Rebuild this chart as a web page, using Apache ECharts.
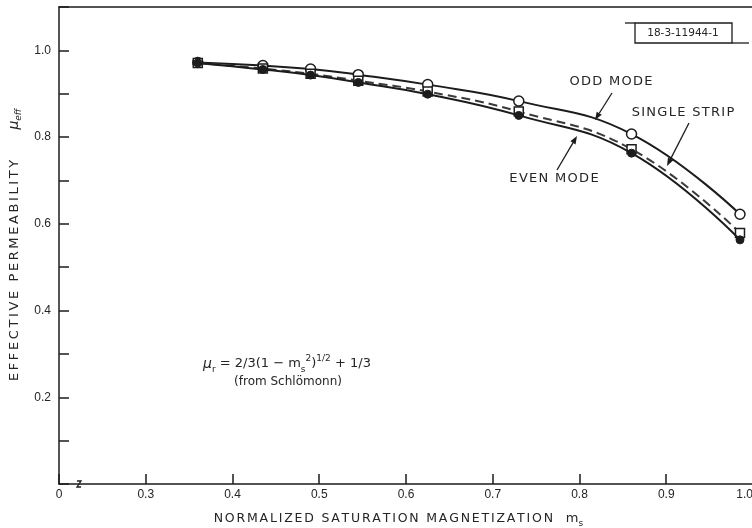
<!DOCTYPE html>
<html>
<head>
<meta charset="utf-8">
<script src="https://cdn.jsdelivr.net/npm/echarts@6/dist/echarts.min.js"></script>
<style>
  html, body { margin: 0; padding: 0; background: #ffffff; }
  #chart { width: 752px; height: 528px; }
</style>
</head>
<body>
<div id="chart"></div>
<script>
// Normalized saturation magnetization m_s at the measured points
const msValues = [0.36, 0.435, 0.49, 0.545, 0.625, 0.73, 0.86, 0.985];
// Effective permeability for each coupled-strip mode
const oddMode     = [0.972, 0.965, 0.957, 0.944, 0.921, 0.883, 0.807, 0.622];
const singleStrip = [0.971, 0.958, 0.946, 0.930, 0.905, 0.859, 0.772, 0.579];
const evenMode    = [0.971, 0.956, 0.943, 0.926, 0.899, 0.850, 0.763, 0.563];
// Axis tick labels (the m_s axis is broken below 0.3; its origin reads "0")
const xTickLabels = ['0', '0.3', '0.4', '0.5', '0.6', '0.7', '0.8', '0.9', '1.0'];
const yTickLabels = ['', '', '0.2', '', '0.4', '', '0.6', '', '0.8', '', '1.0', ''];

const INK = '#1c1c1c';
const TEXT = '#252525';
const SANS = '"DejaVu Sans", "Liberation Sans", sans-serif';
const NUM = '"Liberation Sans", "DejaVu Sans", sans-serif';

const pairs = (ys) => msValues.map((x, i) => [x, ys[i]]);

// Lettering with open tracking: one rich-text token per character
const tracked = (str, key) => str.split('').map((c) => '{' + key + '|' + c + '}').join('');

// Straight arrow with a filled head at (x2, y2)
function arrow(x1, y1, x2, y2) {
  const a = Math.atan2(y2 - y1, x2 - x1);
  const L = 8, W = 3;
  const bx = x2 - L * Math.cos(a), by = y2 - L * Math.sin(a);
  const nx = -Math.sin(a) * W, ny = Math.cos(a) * W;
  return [
    { type: 'line', shape: { x1: x1, y1: y1, x2: bx, y2: by },
      style: { stroke: INK, lineWidth: 1.3 }, z: 20 },
    { type: 'polygon', shape: { points: [[x2, y2], [bx + nx, by + ny], [bx - nx, by - ny]] },
      style: { fill: INK }, z: 20 }
  ];
}

// Curve caption in tracked capitals
function caption(str, x, y) {
  return { type: 'text', x: x, y: y, z: 21,
    style: {
      text: tracked(str, 'c'), align: 'center', verticalAlign: 'middle',
      rich: { c: { font: '13px ' + SANS, fill: TEXT, padding: [0, 0.65, 0, 0.65] } }
    } };
}

const chart = echarts.init(document.getElementById('chart'), null, { renderer: 'canvas' });

const option = {
  animation: false,
  backgroundColor: '#ffffff',
  grid: { left: 59, top: 7, width: 694, bottom: 44, containLabel: false, outerBoundsMode: 'none' },
  xAxis: [{
    type: 'value', min: 0.2, max: 1.0, interval: 0.1,
    axisLine: { lineStyle: { color: INK, width: 1.5 } },
    axisTick: { inside: true, length: 10, lineStyle: { color: INK, width: 1.5 } },
    splitLine: { show: false },
    axisLabel: {
      color: TEXT, fontFamily: NUM, fontSize: 12, margin: 5, alignMaxLabel: 'right',
      formatter: (v) => xTickLabels[Math.round((v - 0.2) / 0.1)] || ''
    },
    name: tracked('NORMALIZED SATURATION MAGNETIZATION', 't') + '{g|   }{m|m}{s|s}',
    nameLocation: 'middle', nameGap: 26,
    nameTextStyle: {
      padding: [0, 16, 0, 0],
      rich: {
        t: { fontFamily: SANS, fontSize: 12.5, color: TEXT, lineHeight: 18, padding: [0, 0.9, 0, 0.9] },
        g: { fontFamily: SANS, fontSize: 12.5, lineHeight: 18 },
        m: { fontFamily: SANS, fontSize: 13, color: TEXT, lineHeight: 18 },
        s: { fontFamily: SANS, fontSize: 9, color: TEXT, lineHeight: 18, verticalAlign: 'bottom' }
      }
    }
  }, {
    type: 'value', min: 0.2, max: 1.0, position: 'top',
    axisLine: { lineStyle: { color: INK, width: 1.5 } },
    axisTick: { show: false }, axisLabel: { show: false }, splitLine: { show: false }
  }],
  yAxis: {
    type: 'value', min: 0, max: 1.1, interval: 0.1,
    axisLine: { lineStyle: { color: INK, width: 1.5 } },
    axisTick: { inside: true, length: 10, lineStyle: { color: INK, width: 1.5 } },
    splitLine: { show: false },
    axisLabel: {
      color: TEXT, fontFamily: NUM, fontSize: 12, margin: 8,
      formatter: (v) => yTickLabels[Math.round(v * 10)] || ''
    },
    name: tracked('EFFECTIVE PERMEABILITY', 't') + '{g|       }{mu|μ}{s|eff}',
    nameLocation: 'middle', nameRotate: 90, nameGap: 26,
    nameTextStyle: {
      padding: [0, 0, 0, 0],
      rich: {
        t: { fontFamily: SANS, fontSize: 13, color: TEXT, lineHeight: 18, padding: [0, 1.3, 0, 1.3] },
        g: { fontFamily: SANS, fontSize: 13, lineHeight: 18 },
        mu: { fontFamily: SANS, fontSize: 14, fontStyle: 'italic', color: TEXT, lineHeight: 18 },
        s: { fontFamily: SANS, fontSize: 9, fontStyle: 'italic', color: TEXT, lineHeight: 18, verticalAlign: 'bottom' }
      }
    }
  },
  series: [
    {
      name: 'ODD MODE', type: 'line', smooth: 0.45,
      data: pairs(oddMode), z: 2,
      symbol: 'circle', symbolSize: 10,
      lineStyle: { color: INK, width: 2 },
      itemStyle: { color: '#ffffff', borderColor: INK, borderWidth: 1.5 }
    },
    {
      name: 'SINGLE STRIP', type: 'line', smooth: 0.45,
      data: pairs(singleStrip), z: 3,
      symbol: 'rect', symbolSize: 9,
      lineStyle: { color: '#3a3a3a', width: 2, type: [9, 5] },
      itemStyle: { color: '#ffffff', borderColor: INK, borderWidth: 1.5 }
    },
    {
      name: 'EVEN MODE', type: 'line', smooth: 0.45,
      data: pairs(evenMode), z: 4,
      symbol: 'circle', symbolSize: 8,
      lineStyle: { color: INK, width: 2 },
      itemStyle: { color: INK, borderColor: INK, borderWidth: 1 }
    }
  ],
  graphic: [
    // axis break on the m_s axis
    { type: 'polyline', shape: { points: [[77, 481], [81, 481], [77, 487], [81, 487]] },
      style: { stroke: INK, lineWidth: 1.3, fill: null }, z: 20 },
    // drawing number block
    { type: 'rect', shape: { x: 635, y: 23, width: 97, height: 20 },
      style: { fill: '#ffffff', stroke: INK, lineWidth: 1.3 }, z: 20 },
    { type: 'line', shape: { x1: 625, y1: 23, x2: 635, y2: 23 }, style: { stroke: INK, lineWidth: 1.3 }, z: 20 },
    { type: 'line', shape: { x1: 732, y1: 43, x2: 749, y2: 43 }, style: { stroke: INK, lineWidth: 1.3 }, z: 20 },
    { type: 'text', x: 683, y: 33, z: 21,
      style: { text: '18-3-11944-1', fill: TEXT, font: '10.5px ' + SANS, align: 'center', verticalAlign: 'middle' } },
    // curve captions and leaders
    caption('ODD MODE', 611, 82),
    caption('SINGLE STRIP', 683, 113),
    caption('EVEN MODE', 554, 179),
    ...arrow(612, 93, 595, 120),
    ...arrow(689, 123, 667, 166),
    ...arrow(557, 170, 577, 136),
    // Schlömann relation
    { type: 'text', x: 203, y: 364, z: 21,
      style: {
        text: '{mu|μ}{s|r}{t| = 2/3(1 − m}{s|s}{p|2}{t|)}{p|1/2}{t| + 1/3}',
        align: 'left', verticalAlign: 'middle',
        rich: {
          mu: { font: 'italic 14px ' + SANS, fill: TEXT, lineHeight: 20 },
          t: { font: '13px ' + SANS, fill: TEXT, lineHeight: 20 },
          s: { font: '9px ' + SANS, fill: TEXT, lineHeight: 20, verticalAlign: 'bottom' },
          p: { font: '9px ' + SANS, fill: TEXT, lineHeight: 20, verticalAlign: 'top' }
        }
      } },
    { type: 'text', x: 288, y: 382, z: 21,
      style: { text: '(from Schlömonn)', fill: TEXT, font: '12px ' + SANS, align: 'center', verticalAlign: 'middle' } }
  ]
};

chart.setOption(option);
</script>
</body>
</html>
